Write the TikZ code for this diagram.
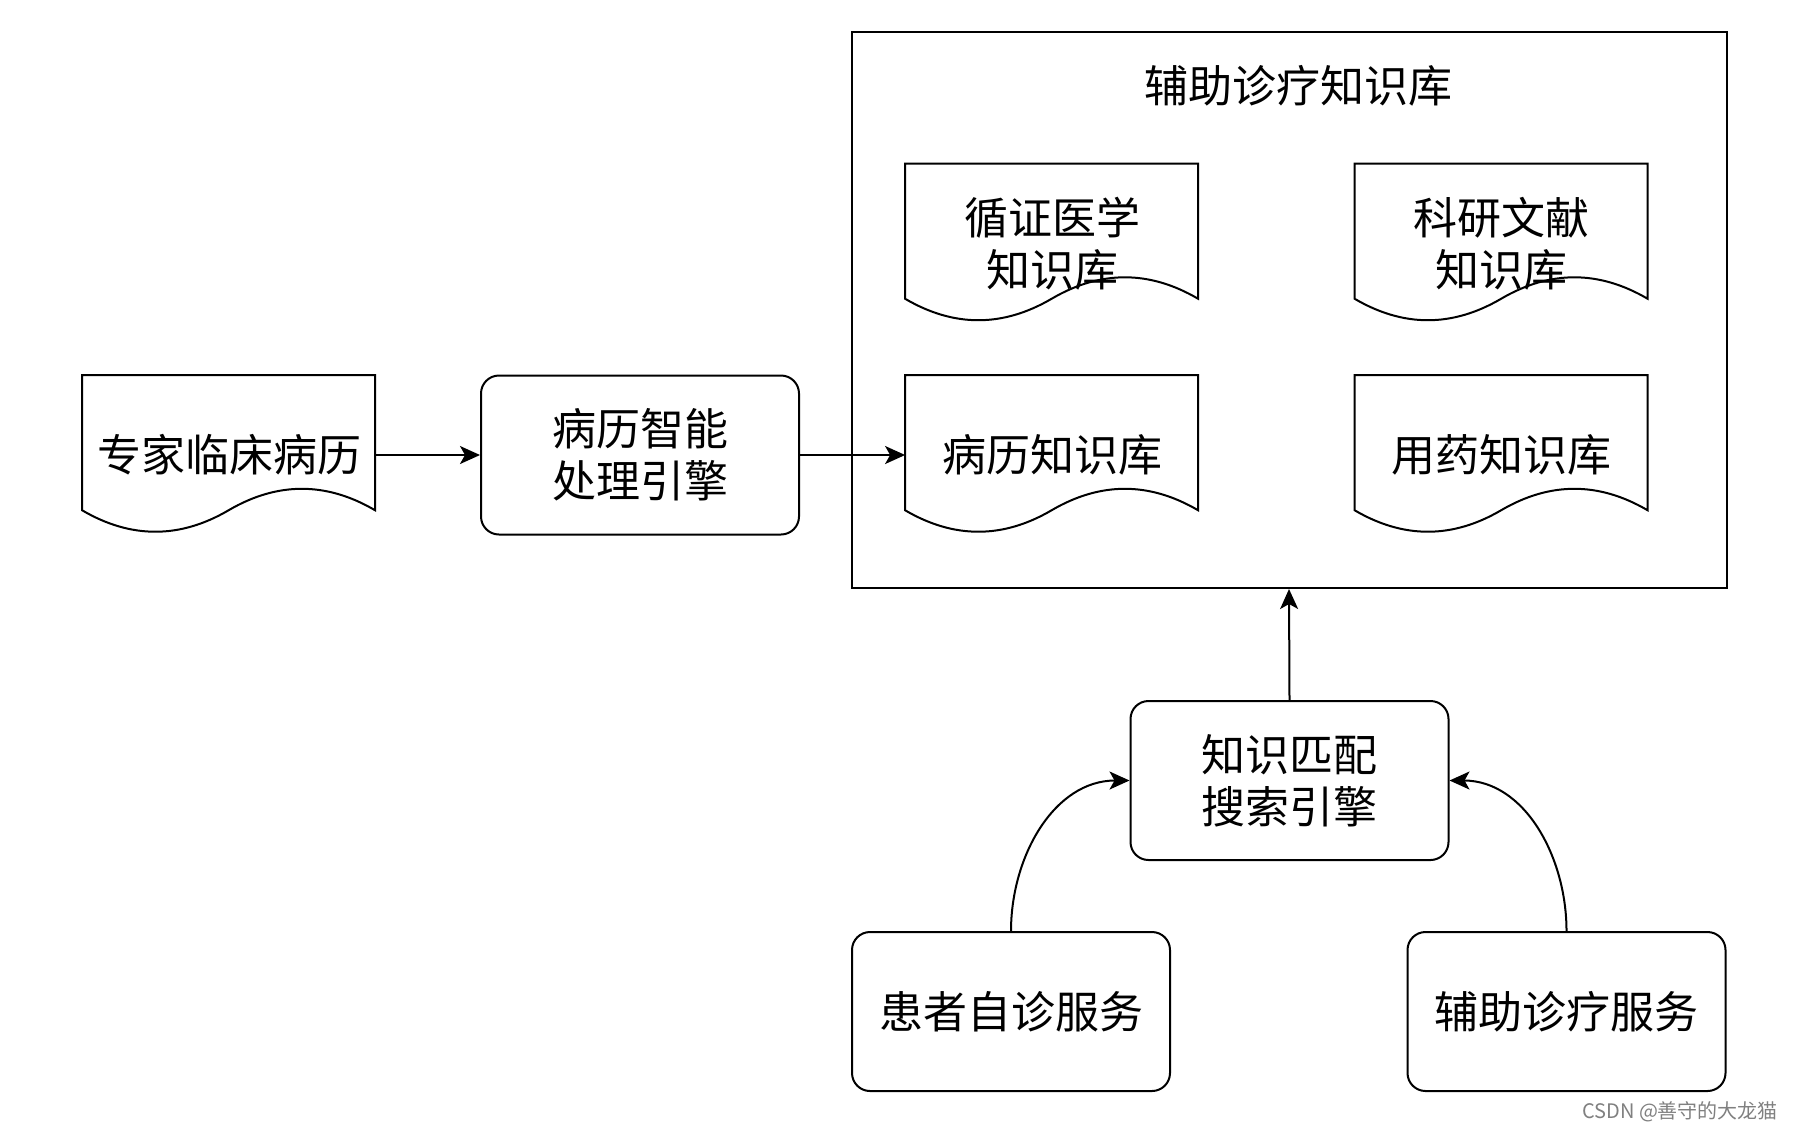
\documentclass[tikz,border=0pt]{standalone}
\usepackage{fontspec}
\setmainfont{Noto Sans CJK SC}
\usetikzlibrary{arrows.meta}

\newcommand{\docwave}[1]{%
  \begin{scope}[shift={(#1.north west)},x=146.5pt,y=-79.5pt]
    \draw[line width=1pt] (0,0) -- (1,0) -- (1,0.85)
      .. controls (0.8333,0.67) and (0.6667,0.67) .. (0.5,0.85)
      .. controls (0.3333,1.03) and (0.1667,1.03) .. (0,0.85) -- cycle;
  \end{scope}}

\begin{document}
\begin{tikzpicture}[
    x=0.5pt,y=-0.5pt,
    every node/.style={font=\fontsize{22}{26}\selectfont,align=center},
    docbox/.style={minimum width=146.5pt,minimum height=79.5pt,inner sep=0pt},
    roundbox/.style={draw,line width=1pt,rounded corners=9pt,minimum width=159pt,minimum height=79.5pt,inner sep=0pt},
    arr/.style={line width=1pt,-{Stealth[length=10pt,width=9pt,inset=2.5pt]}}
    ]
    \useasboundingbox (0,0) rectangle (1797,1131);
    \node[draw,line width=1pt,minimum width=437.5pt,minimum height=278pt] (kb) at (1289,310) {};
    \node (kbtitle) at (1298,86) {辅助诊疗知识库};
    \node[docbox] (rec) at (229,455) {专家临床病历};
    \node[roundbox] (proc) at (640,455) {病历智能\\处理引擎};
    \node[docbox] (ebm) at (1052,243.5) {循证医学\\知识库};
    \node[docbox] (sci) at (1501.5,243.5) {科研文献\\知识库};
    \node[docbox] (case) at (1052,455) {病历知识库};
    \node[docbox] (drug) at (1501.5,455) {用药知识库};
    \node[roundbox] (match) at (1289.5,780.5) {知识匹配\\搜索引擎};
    \node[roundbox] (self) at (1011,1011.5) {患者自诊服务};
    \node[roundbox] (assist) at (1566.5,1011.5) {辅助诊疗服务};
    \node[anchor=east,font=\fontsize{10}{12}\selectfont,text=gray] (mark) at (1785,1112) {CSDN @善守的大龙猫};
    \docwave{rec}
    \docwave{ebm}
    \docwave{sci}
    \docwave{case}
    \docwave{drug}
    \draw[arr] (rec.east) -- (proc.west);
    \draw[arr] (proc.east) -- (case.west);
    \draw[arr] (match.north) -- (kb.south);
    \draw[arr] (self.north) to[out=90,in=180] (match.west);
    \draw[arr] (assist.north) to[out=90,in=0] (match.east);
\end{tikzpicture}
\end{document}
